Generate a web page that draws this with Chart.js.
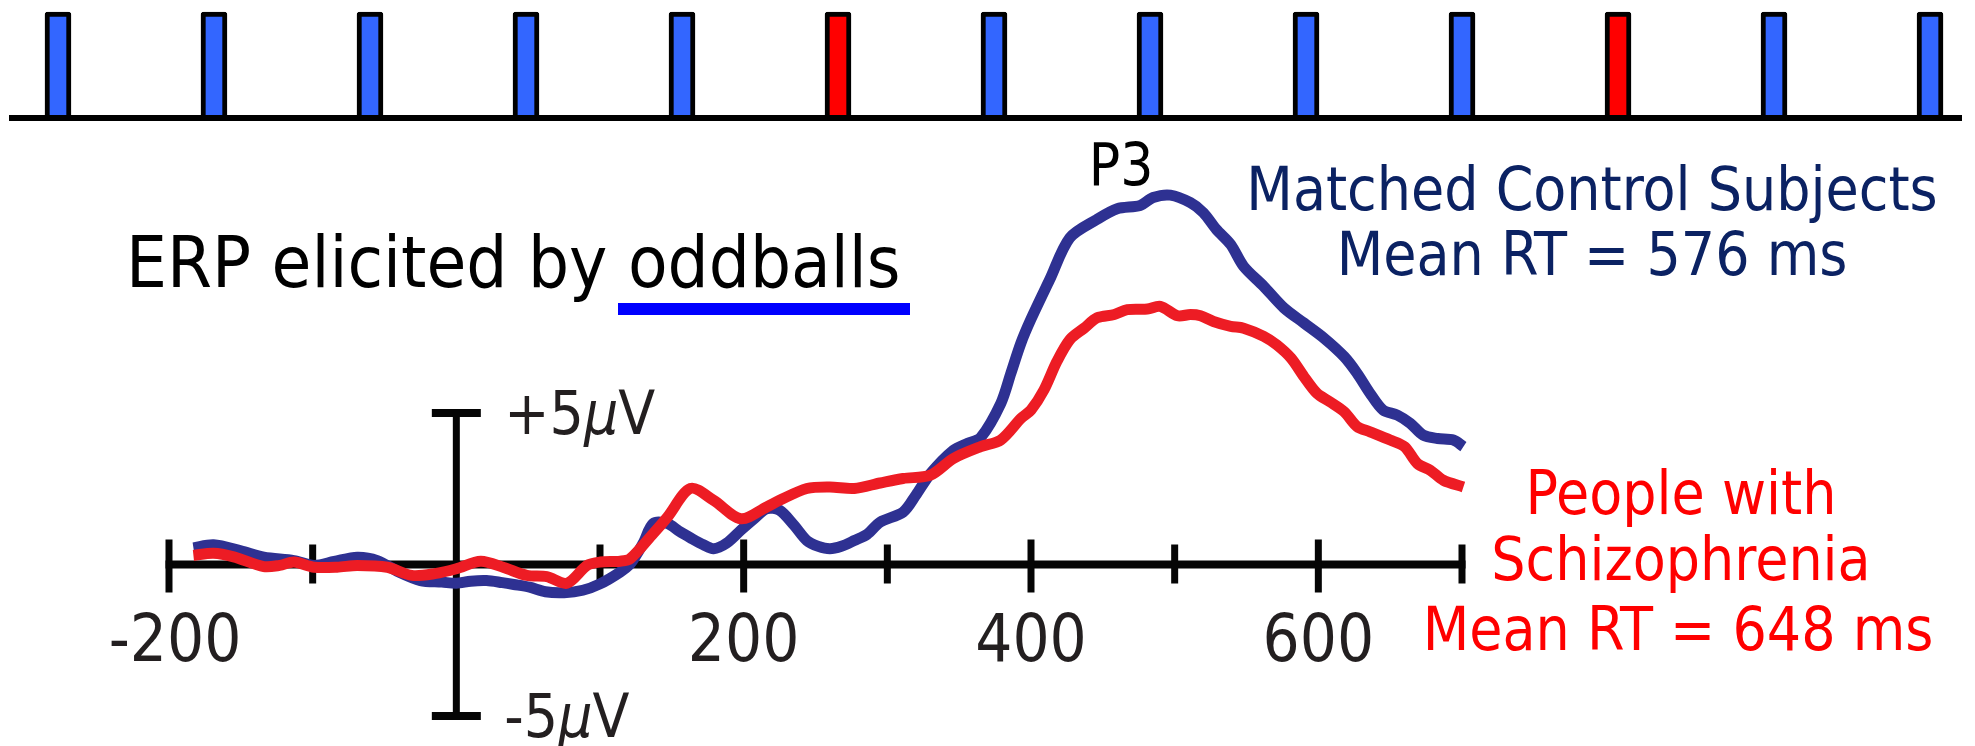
<!DOCTYPE html>
<html>
<head>
<meta charset="utf-8">
<script src="https://cdn.jsdelivr.net/npm/chart.js@4/dist/chart.umd.min.js"></script>
<style>
  html, body { margin: 0; padding: 0; background: #ffffff; overflow: hidden; }
  #wrap { position: relative; width: 1975px; height: 746px; }
  canvas { position: absolute; left: 0; top: 0; }
</style>
</head>
<body>
<div id="wrap">
  <canvas id="erp" width="1975" height="746"></canvas>
  <canvas id="stim" width="1975" height="140"></canvas>
</div>
<script>
// ---------- stimulus sequence (top strip) ----------
const stimulusSlots = [1, 2, 3, 4, 5, 6, 7, 8, 9, 10, 11, 12, 13];
const stimulusTypes = ['standard', 'standard', 'standard', 'standard', 'standard', 'oddball',
                       'standard', 'standard', 'standard', 'standard', 'oddball', 'standard', 'standard'];
const stimulusHeights = [1, 1, 1, 1, 1, 1, 1, 1, 1, 1, 1, 1, 1];

// ---------- ERP waveforms (time in ms, amplitude in microvolts) ----------
const controlTimes = [
  -183, -169, -150, -134, -113, -99, -85, -69, -55, -40,
  -25, -10, 0, 10, 21, 32, 40, 51, 62, 75,
  88, 100, 114, 121, 130, 137, 147, 155, 163, 172,
  179, 188, 198, 207, 216, 225, 235, 244, 252, 260,
  268, 277, 286, 295, 311, 320, 330, 346, 356, 365,
  379, 386, 393, 400, 413, 427, 446, 460, 476, 485,
  497, 511, 520, 529, 539, 548, 562, 576, 590, 604,
  618, 627, 636, 645, 655, 664, 673, 683, 694, 701
];
const controlValues = [
  0.55, 0.65, 0.45, 0.24, 0.13, -0.03, 0.10, 0.24, 0.13, -0.25,
  -0.53, -0.58, -0.62, -0.55, -0.53, -0.60, -0.66, -0.75, -0.90, -0.93,
  -0.85, -0.64, -0.25, 0.02, 0.70, 1.35, 1.35, 1.10, 0.88, 0.65,
  0.52, 0.70, 1.13, 1.50, 1.84, 1.79, 1.30, 0.79, 0.60, 0.52,
  0.60, 0.79, 1.00, 1.40, 1.73, 2.30, 3.00, 3.77, 4.00, 4.19,
  5.32, 6.31, 7.31, 8.10, 9.40, 10.78, 11.39, 11.74, 11.85, 12.11,
  12.19, 11.94, 11.61, 11.06, 10.56, 9.84, 9.18, 8.47, 7.97, 7.47,
  6.86, 6.31, 5.65, 5.10, 4.93, 4.66, 4.27, 4.16, 4.11, 3.89
];
const patientTimes = [
  -183, -169, -155, -134, -123, -113, -99, -83, -69, -48,
  -31, -15, 0, 17, 33, 49, 63, 77, 91, 100,
  114, 121, 137, 147, 163, 179, 198, 216, 225, 244,
  260, 277, 295, 311, 330, 346, 365, 379, 393, 400,
  409, 418, 427, 437, 446, 458, 467, 481, 490, 502,
  511, 518, 527, 539, 548, 562, 571, 581, 590, 599,
  608, 618, 627, 636, 650, 660, 669, 678, 687, 701
];
const patientValues = [
  0.30, 0.37, 0.25, -0.07, -0.03, 0.08, -0.09, -0.09, -0.03, -0.09,
  -0.36, -0.30, -0.14, 0.11, -0.10, -0.36, -0.40, -0.62, -0.03, 0.08,
  0.11, 0.19, 1.02, 1.57, 2.51, 2.12, 1.51, 1.90, 2.12, 2.51,
  2.56, 2.51, 2.69, 2.84, 2.95, 3.50, 3.89, 4.11, 4.82, 5.10,
  5.76, 6.70, 7.42, 7.80, 8.14, 8.25, 8.41, 8.43, 8.52, 8.21,
  8.25, 8.21, 8.02, 7.86, 7.80, 7.53, 7.25, 6.81, 6.20, 5.65,
  5.37, 5.04, 4.55, 4.38, 4.11, 3.89, 3.33, 3.11, 2.78, 2.56
];

// ---------- axis ticks / labels ----------
const xTickValues = [-200, -100, 100, 200, 300, 400, 500, 600, 700];
const xLabelValues = [-200, 200, 400, 600];
const xLabelTexts = ['-200', '200', '400', '600'];
const yBarValues = [5, -5];
const yBarTexts = ['+5', '-5'];

const FONT_FAMILY = '"DejaVu Sans Condensed", "DejaVu Sans", sans-serif';
function setFont(ctx, size, italic) {
  ctx.font = (italic ? 'italic ' : '') + size + 'px ' + FONT_FAMILY;
  if ('fontStretch' in ctx) ctx.fontStretch = 'condensed';
}

// axes drawn through the chart's scales
const erpAxesPlugin = {
  id: 'erpAxes',
  beforeDatasetsDraw(chart) {
    const ctx = chart.ctx;
    const xs = chart.scales.x, ys = chart.scales.y;
    const y0 = ys.getPixelForValue(0);
    const x0 = xs.getPixelForValue(0);
    ctx.save();
    ctx.strokeStyle = '#050505';
    ctx.lineCap = 'butt';
    // horizontal time axis
    ctx.lineWidth = 8;
    ctx.beginPath();
    ctx.moveTo(xs.getPixelForValue(xs.min) - 3.5, y0);
    ctx.lineTo(xs.getPixelForValue(xs.max) + 3.5, y0);
    ctx.stroke();
    // ticks
    ctx.lineWidth = 7;
    xTickValues.forEach(v => {
      const px = xs.getPixelForValue(v);
      const major = xLabelValues.includes(v);
      ctx.beginPath();
      ctx.moveTo(px, y0 - (major ? 25 : 20));
      ctx.lineTo(px, y0 + (major ? 28 : 19));
      ctx.stroke();
    });
    // vertical amplitude bar
    ctx.lineWidth = 7;
    ctx.beginPath();
    ctx.moveTo(x0, ys.getPixelForValue(yBarValues[0]));
    ctx.lineTo(x0, ys.getPixelForValue(yBarValues[1]));
    ctx.stroke();
    ctx.lineWidth = 8;
    yBarValues.forEach(v => {
      const py = ys.getPixelForValue(v);
      ctx.beginPath();
      ctx.moveTo(x0 - 24.5, py);
      ctx.lineTo(x0 + 24.5, py);
      ctx.stroke();
    });
    // tick labels
    ctx.fillStyle = '#231f20';
    setFont(ctx, 65, false);
    ctx.textAlign = 'center';
    ctx.textBaseline = 'alphabetic';
    xLabelValues.forEach((v, i) => {
      ctx.fillText(xLabelTexts[i], xs.getPixelForValue(v) + (v < 0 ? 6 : 0), y0 + 96);
    });
    // amplitude labels
    yBarValues.forEach((v, i) => {
      const py = ys.getPixelForValue(v) + 21;
      let x = x0 + 48;
      ctx.textAlign = 'left';
      setFont(ctx, 60, false);
      ctx.fillText(yBarTexts[i], x, py);
      x += ctx.measureText(yBarTexts[i]).width;
      setFont(ctx, 60, true);
      ctx.fillText('\u03bc', x, py);
      x += ctx.measureText('\u03bc').width;
      setFont(ctx, 60, false);
      ctx.fillText('V', x, py);
    });
    ctx.restore();
  }
};

const erpTextPlugin = {
  id: 'erpText',
  afterDraw(chart) {
    const ctx = chart.ctx;
    ctx.save();
    ctx.textBaseline = 'alphabetic';
    // title
    ctx.fillStyle = '#000000';
    setFont(ctx, 72, false);
    ctx.textAlign = 'left';
    ctx.fillText('ERP elicited by oddballs', 126, 287);
    ctx.fillStyle = '#0000ff';
    ctx.fillRect(618, 303, 292, 12);
    // P3
    ctx.fillStyle = '#000000';
    setFont(ctx, 58, false);
    ctx.textAlign = 'center';
    ctx.fillText('P3', 1121, 185);
    // control legend
    ctx.fillStyle = '#0b2263';
    setFont(ctx, 60, false);
    ctx.fillText('Matched Control Subjects', 1592, 210);
    ctx.fillText('Mean RT = 576 ms', 1592, 275);
    // patient legend
    ctx.fillStyle = '#ff0000';
    ctx.fillText('People with', 1681, 514);
    ctx.fillText('Schizophrenia', 1681, 580);
    ctx.fillText('Mean RT = 648 ms', 1678, 650);
    ctx.restore();
  }
};

new Chart(document.getElementById('erp'), {
  type: 'line',
  data: {
    datasets: [
      {
        label: 'People with Schizophrenia',
        data: patientTimes.map((t, i) => ({ x: t, y: patientValues[i] })),
        borderColor: '#ed1c24',
        borderWidth: 11,
        pointRadius: 0,
        tension: 0.3,
        capBezierPoints: false,
        borderJoinStyle: 'round',
        borderCapStyle: 'butt',
        fill: false,
        clip: false,
        order: 0
      },
      {
        label: 'Matched Control Subjects',
        data: controlTimes.map((t, i) => ({ x: t, y: controlValues[i] })),
        borderColor: '#2e3192',
        borderWidth: 11,
        pointRadius: 0,
        tension: 0.3,
        capBezierPoints: false,
        borderJoinStyle: 'round',
        borderCapStyle: 'butt',
        fill: false,
        clip: false,
        order: 1
      }
    ]
  },
  options: {
    responsive: false,
    animation: false,
    devicePixelRatio: 1,
    events: [],
    layout: { padding: { left: 169, right: 513, top: 413, bottom: 30 } },
    scales: {
      x: { type: 'linear', min: -200, max: 700, display: false, offset: false },
      y: { type: 'linear', min: -5, max: 5, display: false }
    },
    plugins: { legend: { display: false }, tooltip: { enabled: false } }
  },
  plugins: [erpAxesPlugin, erpTextPlugin]
});

const stimBaselinePlugin = {
  id: 'stimBaseline',
  afterDatasetsDraw(chart) {
    const ctx = chart.ctx;
    const xs = chart.scales.x, ys = chart.scales.y;
    const yb = ys.getPixelForValue(0);
    ctx.save();
    ctx.strokeStyle = '#000000';
    ctx.lineWidth = 6;
    ctx.beginPath();
    ctx.moveTo(xs.getPixelForValue(xs.min), yb);
    ctx.lineTo(xs.getPixelForValue(xs.max), yb);
    ctx.stroke();
    ctx.restore();
  }
};

new Chart(document.getElementById('stim'), {
  type: 'bar',
  data: {
    datasets: [{
      label: 'Stimuli',
      data: stimulusSlots.map((s, i) => ({ x: s, y: stimulusHeights[i] })),
      backgroundColor: stimulusTypes.map(t => t === 'oddball' ? '#ff0000' : '#3366ff'),
      borderColor: '#000000',
      borderWidth: 5,
      borderSkipped: 'bottom',
      borderRadius: { topLeft: 3, topRight: 3, bottomLeft: 0, bottomRight: 0 },
      barThickness: 26,
      clip: false
    }]
  },
  options: {
    responsive: false,
    animation: false,
    devicePixelRatio: 1,
    events: [],
    layout: { padding: { left: 9, right: 13, top: 12, bottom: 22 } },
    scales: {
      x: { type: 'linear', min: 0.686, max: 13.205, display: false, offset: false },
      y: { type: 'linear', min: 0, max: 1, display: false }
    },
    plugins: { legend: { display: false }, tooltip: { enabled: false } }
  },
  plugins: [stimBaselinePlugin]
});
</script>
</body>
</html>
